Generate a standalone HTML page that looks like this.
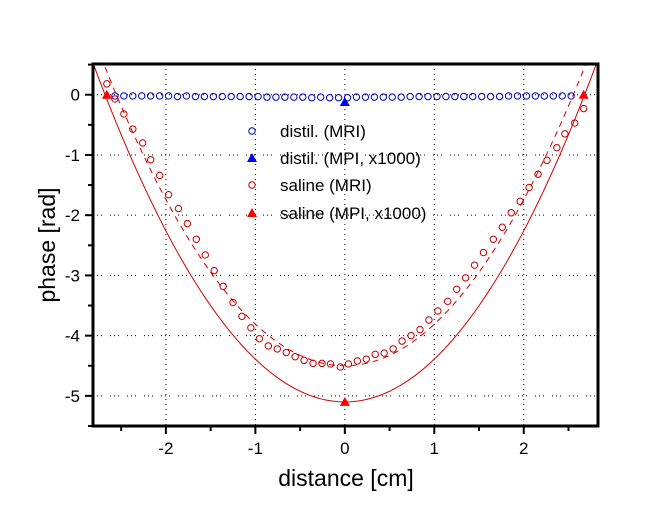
<!DOCTYPE html>
<html><head><meta charset="utf-8"><style>
body{margin:0;background:#fff}
svg{display:block;font-family:"Liberation Sans",Arial,sans-serif}
</style></head><body>
<svg id="chart" width="669" height="529"></svg>
<script>
const xTicks=[-2,-1,0,1,2];
const yTicks=[0,-1,-2,-3,-4,-5];
const blueX=[-2.57,-2.47,-2.37,-2.27,-2.17,-2.07,-1.97,-1.87,-1.77,-1.67,-1.57,-1.47,-1.37,-1.27,-1.17,-1.07,-0.97,-0.87,-0.77,-0.67,-0.57,-0.47,-0.37,-0.27,-0.17,-0.07,0.03,0.13,0.23,0.33,0.43,0.53,0.63,0.73,0.83,0.93,1.03,1.13,1.23,1.33,1.43,1.53,1.63,1.73,1.83,1.93,2.03,2.13,2.23,2.33,2.43,2.53];
const blueY=[-0.02,-0.02,-0.02,-0.02,-0.02,-0.02,-0.02,-0.03,-0.02,-0.03,-0.03,-0.03,-0.03,-0.03,-0.03,-0.03,-0.03,-0.04,-0.04,-0.04,-0.04,-0.04,-0.05,-0.04,-0.05,-0.05,-0.05,-0.04,-0.04,-0.04,-0.04,-0.04,-0.04,-0.03,-0.03,-0.03,-0.03,-0.03,-0.03,-0.03,-0.03,-0.03,-0.03,-0.03,-0.02,-0.02,-0.02,-0.02,-0.02,-0.02,-0.02,-0.02];
const blueTriX=[0];
const blueTriY=[-0.12];
const salX=[-2.66,-2.57,-2.47,-2.37,-2.26,-2.17,-2.07,-1.97,-1.86,-1.76,-1.66,-1.56,-1.46,-1.36,-1.25,-1.15,-1.05,-0.955,-0.855,-0.755,-0.655,-0.555,-0.455,-0.355,-0.255,-0.16,-0.05,0.04,0.14,0.24,0.34,0.44,0.54,0.64,0.74,0.84,0.94,1.04,1.15,1.25,1.35,1.45,1.55,1.66,1.76,1.86,1.96,2.06,2.16,2.26,2.37,2.46,2.57,2.67];
const salY=[0.18,-0.07,-0.32,-0.57,-0.8,-1.08,-1.34,-1.66,-1.89,-2.14,-2.40,-2.66,-2.92,-3.18,-3.45,-3.68,-3.87,-4.05,-4.17,-4.22,-4.28,-4.35,-4.41,-4.46,-4.46,-4.47,-4.52,-4.47,-4.42,-4.39,-4.31,-4.29,-4.22,-4.09,-4.0,-3.9,-3.74,-3.59,-3.43,-3.23,-3.04,-2.83,-2.62,-2.40,-2.2,-1.96,-1.77,-1.54,-1.32,-1.09,-0.88,-0.65,-0.47,-0.23];
const salTriX=[-2.66,0,2.67];
const salTriY=[0,-5.1,0];
const solidFit=[-5.1,0.71];
const dashFit=[-4.5,0.69];

const L=93,R=598,T=64,B=426,X0=-2.815,X1=2.83,Y0=-5.5,Y1=0.51;
const sx=v=>L+(v-X0)/(X1-X0)*(R-L);
const sy=v=>B-(v-Y0)/(Y1-Y0)*(B-T);
const svg=document.getElementById('chart');
const NS='http://www.w3.org/2000/svg';
function mk(tag,attrs,parent){const e=document.createElementNS(NS,tag);for(const k in attrs)e.setAttribute(k,attrs[k]);(parent||svg).appendChild(e);return e;}

const grid=mk('g',{});


xTicks.forEach(t=>{const l=mk('line',{x1:sx(t),x2:sx(t),y1:T,y2:B,stroke:'#000','stroke-width':1,'stroke-dasharray':'1,4'},grid);

});
yTicks.forEach(t=>{const l=mk('line',{x1:L,x2:R,y1:sy(t),y2:sy(t),stroke:'#000','stroke-width':1,'stroke-dasharray':'1,3,1,3,1,8'},grid);

});

const clip=mk('clipPath',{id:'pc'});mk('rect',{x:L,y:T,width:R-L,height:B-T},clip);
function curve(fit,dash,name){let d='';for(let i=0;i<=200;i++){const x=X0+(X1-X0)*i/200;const y=fit[0]+fit[1]*x*x;d+=(i?'L':'M')+sx(x).toFixed(2)+','+sy(y).toFixed(2);}
const p=mk('path',{d,fill:'none',stroke:'#d00000','stroke-width':1,'clip-path':'url(#pc)'});if(dash)p.setAttribute('stroke-dasharray','6,5');

}
curve(solidFit,false,'saline-mpi-fit');
curve(dashFit,true,'saline-mri-fit');

function circles(xs,ys,col,name){xs.forEach((x,i)=>{const c=mk('circle',{cx:sx(x),cy:sy(ys[i]),r:3.2,fill:'none',stroke:col,'stroke-width':1});

});}
function tris(xs,ys,col,name){xs.forEach((x,i)=>{const cx=sx(x),cy=sy(ys[i]);const t=mk('polygon',{points:`${cx-5},${cy+4} ${cx+5},${cy+4} ${cx},${cy-5}`,fill:col});

});}
circles(blueX,blueY,'#0000c0','distil-mri-point');
circles(salX,salY,'#c00000','saline-mri-point');
tris(blueTriX,blueTriY,'#0000ff','distil-mpi-point');
tris(salTriX,salTriY,'#ff0000','saline-mpi-point');

const frame=mk('rect',{x:L,y:T,width:R-L,height:B-T,fill:'none',stroke:'#000','stroke-width':3});


for(let v=-2.5;v<=2.51;v+=0.5){const major=Math.abs(v-Math.round(v))<0.01;mk('line',{x1:sx(v),x2:sx(v),y1:B,y2:B+(major?8:5),stroke:'#000','stroke-width':2});}
for(let v=0.5;v>=-5.51;v-=0.5){const major=Math.abs(v-Math.round(v))<0.01;mk('line',{x1:L,x2:L-(major?8:5),y1:sy(v),y2:sy(v),stroke:'#000','stroke-width':2});}
xTicks.forEach(t=>{const e=mk('text',{x:sx(t),y:B+28,'text-anchor':'middle','font-size':17});e.textContent=t<0?'-'+Math.abs(t):t;

});
yTicks.forEach(t=>{const e=mk('text',{x:L-13,y:sy(t)+6,'text-anchor':'end','font-size':17});e.textContent=t<0?'-'+Math.abs(t):t;

});
</script>
<svg width="669" height="529" style="position:absolute;left:0;top:0;font-family:'Liberation Sans',Arial,sans-serif">
<text x="346" y="486" text-anchor="middle" font-size="23">distance [cm]</text>
<text transform="translate(55,245) rotate(-90)" text-anchor="middle" font-size="23">phase [rad]</text>
<g font-size="17">
<circle cx="252" cy="131" r="3.2" fill="none" stroke="#0000c0"/>
<text x="280" y="137">distil. (MRI)</text>
<polygon points="247,162 257,162 252,153" fill="#0000ff"/>
<text x="280" y="164">distil. (MPI, x1000)</text>
<circle cx="252" cy="185" r="3.2" fill="none" stroke="#c00000"/>
<text x="280" y="191">saline (MRI)</text>
<polygon points="247,217 257,217 252,208" fill="#ff0000"/>
<text x="280" y="219">saline (MPI, x1000)</text>
</g>
</svg>
</body></html>
